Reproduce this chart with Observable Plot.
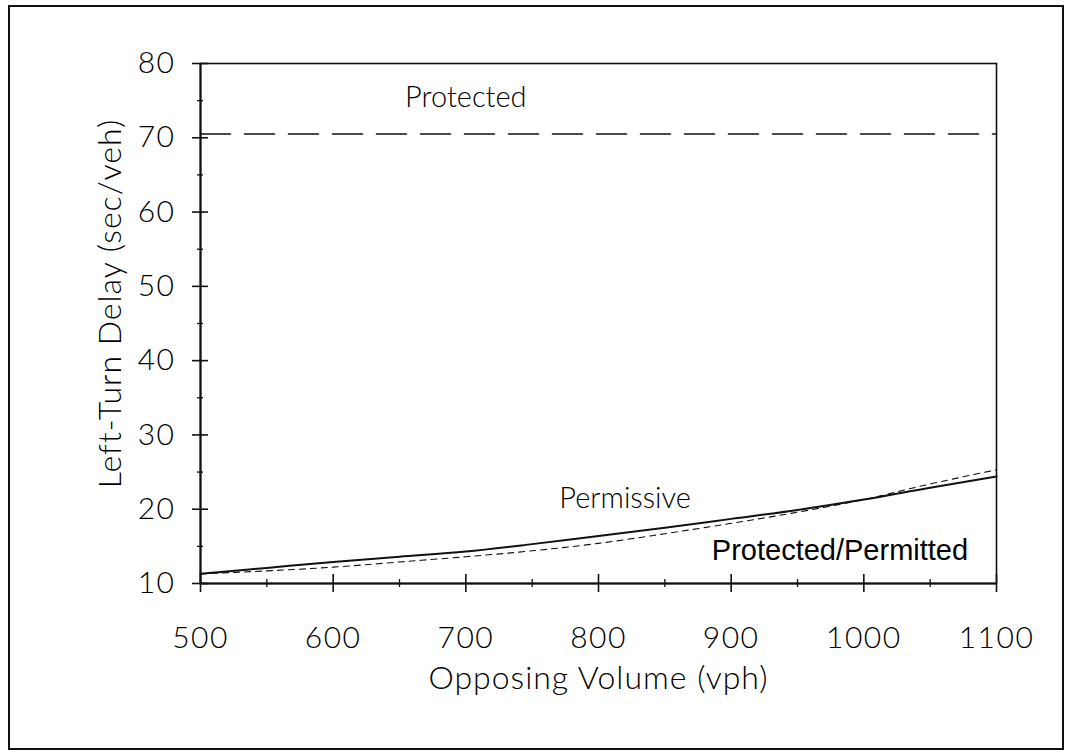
<!DOCTYPE html>
<html>
<head>
<meta charset="utf-8">
<script src="https://cdn.jsdelivr.net/npm/d3@7"></script>
<script src="https://cdn.jsdelivr.net/npm/@observablehq/plot@0.6"></script>
<style>
  html, body { margin: 0; padding: 0; background: #fff; }
  #wrap { position: relative; width: 1065px; height: 756px; }
  #border { position: absolute; left: 8px; top: 5px; width: 1052px; height: 741px;
            border: 2px solid #111; pointer-events: none; }
  #wrap svg { position: absolute; left: 0; top: 0; }
  g[aria-label="x-axis tick label"] text,
  g[aria-label="y-axis tick label"] text { letter-spacing: 1.5px; }
  g.axis-title text { letter-spacing: 1px; }
</style>
</head>
<body>
<div id="wrap"><div id="border"></div></div>
<script>
// Opposing volume (vph)
const volume = [500, 550, 600, 650, 700, 750, 800, 850, 900, 950, 1000, 1050, 1100];
// Left-turn delay (sec/veh) for each phasing type
const permissive = [11.3, 12.1, 12.9, 13.6, 14.3, 15.3, 16.4, 17.5, 18.7, 19.9, 21.3, 22.9, 24.4];
const protectedPermitted = [11.3, 11.7, 12.2, 12.9, 13.6, 14.4, 15.4, 16.7, 18.1, 19.6, 21.3, 23.4, 25.3];
const protectedDelay = 70.5;

const xTicks = [500, 600, 700, 800, 900, 1000, 1100];
const xMinor = [550, 650, 750, 850, 950, 1050];
const yTicks = [10, 20, 30, 40, 50, 60, 70, 80];
const yMinor = [15, 25, 35, 45, 55, 65, 75];

const curveLabels = [
  {name: "Protected", v: 700, d: 75.4},
  {name: "Permissive", v: 820, d: 21.4},
  {name: "Protected/Permitted", v: 982, d: 14.4}
];

const permRows = volume.map((v, i) => ({v, d: permissive[i]}));
const ppRows = volume.map((v, i) => ({v, d: protectedPermitted[i]}));
const protRows = [{v: volume[0], d: protectedDelay}, {v: volume[volume.length - 1], d: protectedDelay}];

const ink = "#000";
const font = "Lato, 'Open Sans', sans-serif";
const plain = String;

const chart = Plot.plot({
  width: 1065,
  height: 756,
  marginLeft: 200,
  marginRight: 69,
  marginTop: 63,
  marginBottom: 173,
  style: {fontFamily: font, fontSize: "30px", color: ink, background: "transparent"},
  x: {domain: [500, 1100]},
  y: {domain: [10, 80]},
  marks: [
    Plot.frame({stroke: "#111", strokeWidth: 1.6}),
    // x axis: labels, major ticks crossing the axis, minor ticks
    Plot.axisX(xTicks, {tickSize: 0, tickPadding: 43, tickFormat: plain, fontSize: 30, fontWeight: 300, fill: ink, label: null}),
    Plot.axisX(xTicks, {tickSize: 9, text: null, label: null, stroke: "#111", strokeWidth: 1.6}),
    Plot.axisX(xTicks, {tickSize: -9, text: null, label: null, stroke: "#111", strokeWidth: 1.6}),
    Plot.axisX(xMinor, {tickSize: 4, text: null, label: null, stroke: "#111", strokeWidth: 1.3}),
    Plot.axisX(xMinor, {tickSize: -4, text: null, label: null, stroke: "#111", strokeWidth: 1.3}),
    // y axis
    Plot.axisY(yTicks, {tickSize: 0, tickPadding: 25, tickFormat: plain, fontSize: 30, fontWeight: 300, fill: ink, label: null}),
    Plot.axisY(yTicks, {tickSize: 8, text: null, label: null, stroke: "#111", strokeWidth: 1.6}),
    Plot.axisY(yTicks, {tickSize: -8, text: null, label: null, stroke: "#111", strokeWidth: 1.6}),
    Plot.axisY(yMinor, {tickSize: 3, text: null, label: null, stroke: "#111", strokeWidth: 1.3}),
    Plot.axisY(yMinor, {tickSize: -3, text: null, label: null, stroke: "#111", strokeWidth: 1.3}),
    Plot.ruleY([10], {stroke: "#111", strokeWidth: 2}),
    Plot.ruleX([500], {stroke: "#111", strokeWidth: 2}),
    // axis titles
    Plot.text(["Left-Turn Delay (sec/veh)"], {frameAnchor: "left", textAnchor: "middle", dx: -90, dy: -20, rotate: -90,
      fontSize: 32, fontWeight: 300, fill: ink, className: "axis-title"}),
    Plot.text(["Opposing Volume (vph)"], {frameAnchor: "bottom", dy: 105, fontSize: 32, fontWeight: 300,
      fill: ink, className: "axis-title"}),
    // series
    Plot.line(protRows, {x: "v", y: "d", stroke: "#111", strokeWidth: 1.6, strokeDasharray: "30,14"}),
    Plot.line(ppRows, {x: "v", y: "d", stroke: "#111", strokeWidth: 1.1, strokeDasharray: "6,5", curve: "monotone-x"}),
    Plot.line(permRows, {x: "v", y: "d", stroke: "#111", strokeWidth: 2, curve: "monotone-x"}),
    // series labels
    Plot.text(curveLabels.slice(0, 2), {x: "v", y: "d", text: "name", fontSize: 29, fontWeight: 300,
      fontFamily: font, fill: ink}),
    Plot.text(curveLabels.slice(2), {x: "v", y: "d", text: "name", fontSize: 29,
      fontFamily: "'Liberation Sans', Arial, sans-serif", fill: ink})
  ]
});

document.getElementById("wrap").appendChild(chart);
</script>
</body>
</html>
